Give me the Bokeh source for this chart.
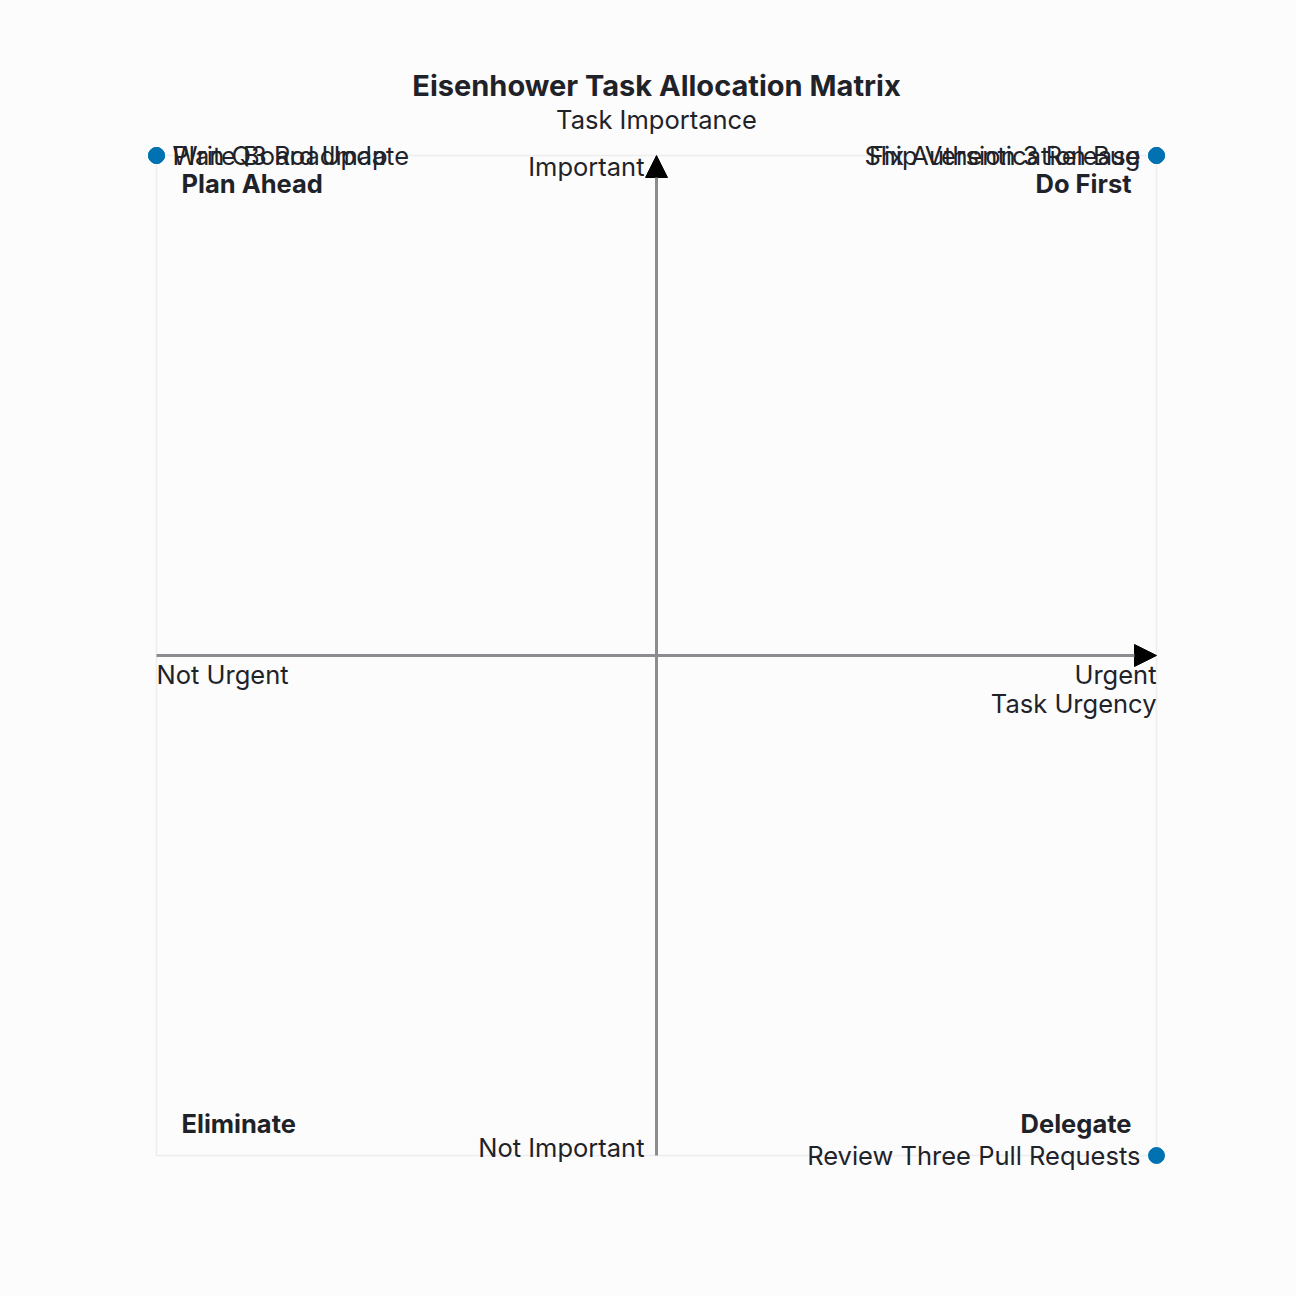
from bokeh.plotting import figure
from bokeh.models import ColumnDataSource, Label, Arrow, NormalHead, BoxAnnotation, Range1d
from bokeh.embed import file_html
from bokeh.resources import INLINE

# ---- data ----
tasks = ["Plan Q3 Roadmap", "Write Board Update", "Ship Version 3 Release",
         "Fix Authentication Bug", "Review Three Pull Requests"]
urgency = [-1, -1, 1, 1, 1]
importance = [1, 1, 1, 1, -1]
quadrants = ["Do First", "Plan Ahead", "Eliminate", "Delegate"]
quad_x = [1, -1, -1, 1]
quad_y = [1, 1, -1, -1]

FONT = "Inter"
TXT = "#1f2329"
BG = "#fcfcfc"

p = figure(output_backend="svg", toolbar_location=None,
           width=1296, height=1296,
           min_border=0,
           x_range=Range1d(-1.312, 1.28), y_range=Range1d(-1.282, 1.31),
           background_fill_color=BG, border_fill_color=BG)
p.axis.visible = False
p.grid.visible = False
p.outline_line_color = None

# frame border
p.add_layout(BoxAnnotation(left=-1, right=1, bottom=-1, top=1, fill_alpha=0,
                           line_color="#c9cbd0", line_width=1.5, level="underlay"))

# axis arrows
p.add_layout(Arrow(x_start=-1, y_start=0, x_end=1, y_end=0, line_color="#8a8c90", line_width=3,
                   end=NormalHead(size=22, fill_color="black", line_color="black")))
p.add_layout(Arrow(x_start=0, y_start=-1, x_end=0, y_end=1, line_color="#8a8c90", line_width=3,
                   end=NormalHead(size=22, fill_color="black", line_color="black")))

# points
src = ColumnDataSource(dict(x=urgency, y=importance, t=tasks))
p.scatter("x", "y", source=src, size=16, fill_color="#0072b2", line_color="#0072b2")

for u, i, t in zip(urgency, importance, tasks):
    p.add_layout(Label(x=u, y=i, text=t, x_offset=16 if u < 0 else -16,
                       text_align="left" if u < 0 else "right", text_baseline="middle",
                       text_font=FONT, text_font_size="25.5px", text_color=TXT))

# quadrant labels
for q, qx, qy in zip(quadrants, quad_x, quad_y):
    p.add_layout(Label(x=qx * 0.95, y=0.945 if qy > 0 else -0.935, text=q,
                       text_align="left" if qx < 0 else "right", text_baseline="middle",
                       text_font=FONT, text_font_size="25.5px", text_font_style="bold",
                       text_color=TXT))

def lab(x, y, t, align, baseline="alphabetic", size="25.5px", style="normal"):
    p.add_layout(Label(x=x, y=y, text=t, text_align=align, text_baseline=baseline,
                       text_font=FONT, text_font_size=size, text_font_style=style,
                       text_color=TXT))

lab(-0.024, 0.978, "Important", "right")
lab(-0.024, -0.984, "Not Important", "right")
lab(-1.0, -0.038, "Not Urgent", "left")
lab(1.0, -0.038, "Urgent", "right")
lab(1.0, -0.096, "Task Urgency", "right")
lab(0.0, 1.072, "Task Importance", "center")
lab(0.0, 1.14, "Eisenhower Task Allocation Matrix", "center", size="29px", style="bold")

open("out.html", "w").write(file_html(p, INLINE))
